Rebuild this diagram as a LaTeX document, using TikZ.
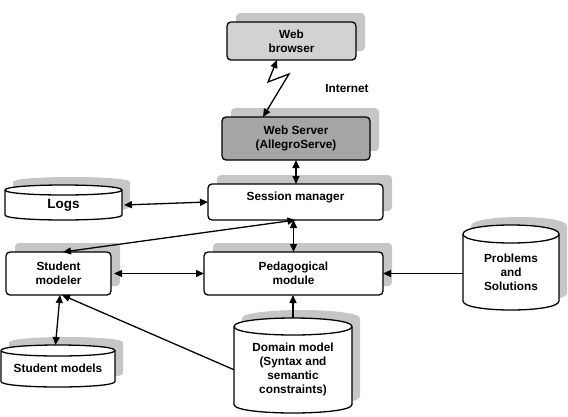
\documentclass[tikz,border=0pt]{standalone}
\usepackage{fontspec}
\setmainfont{Liberation Sans}
\usetikzlibrary{arrows.meta,shadows,calc}
\definecolor{shadowgray}{HTML}{C6C6C6}
\definecolor{browserfill}{HTML}{D2D2D2}
\definecolor{serverfill}{HTML}{A6A6A6}
\newcommand\lbl{\fontsize{11.8}{14}\selectfont\bfseries}
\newcommand\biglbl{\fontsize{13.5}{16}\selectfont\bfseries}
% x1, x2, y of top ellipse centre, y bottom, ry
\newcommand\cylshape[5]{%
  \begin{scope}[xshift=8pt,yshift=8pt]
    \fill[shadowgray] (#1,#3) -- (#1,{#4-#5}) .. controls (#1,{#4+#5/3}) and (#2,{#4+#5/3}) .. (#2,{#4-#5}) -- (#2,#3) .. controls (#2,{#3-4*#5/3}) and (#1,{#3-4*#5/3}) .. cycle;
  \end{scope}
  \draw[cylline,fill=white] (#1,#3) -- (#1,{#4-#5}) .. controls (#1,{#4+#5/3}) and (#2,{#4+#5/3}) .. (#2,{#4-#5}) -- (#2,#3) .. controls (#2,{#3-4*#5/3}) and (#1,{#3-4*#5/3}) .. cycle;
  \draw[cylline] (#1,#3) .. controls (#1,{#3+4*#5/3}) and (#2,{#3+4*#5/3}) .. (#2,#3);
}
\tikzset{
  box/.style={draw, line width=1.3pt, rounded corners=4pt, fill=white, inner sep=0pt, outer sep=0pt,
    align=center, font=\lbl, copy shadow={shadow xshift=9pt, shadow yshift=9pt, fill=shadowgray, draw=none}},
  cylline/.style={line width=1.3pt},
  cyltext/.style={inner sep=0pt, outer sep=0pt, align=center, font=\lbl},
  tip/.tip={Triangle[length=8pt,width=7pt]},
  link/.style={line width=1.3pt, tip-tip},
  onelink/.style={line width=1.3pt, -tip}
}
\begin{document}
\begin{tikzpicture}[x=1pt,y=-1pt]
\useasboundingbox (0,0) rectangle (568,416);

% boxes
\node[box, fill=browserfill, minimum width=129pt, minimum height=38pt] (browser) at (291.5,41) {Web\\browser};
\node[box, fill=serverfill, minimum width=148pt, minimum height=43pt] (server) at (296,138.5) {Web Server\\(AllegroServe)};
\node[box, minimum width=175pt, minimum height=36pt, text depth=11pt] (session) at (295.5,202) {Session manager};
\node[box, minimum width=105pt, minimum height=43pt] (modeler) at (58.5,273.5) {Student\\modeler};
\node[box, minimum width=179pt, minimum height=43pt] (pedagogical) at (293.5,273.5) {Pedagogical\\module};

% cylinders
\cylshape{5}{122}{190}{220}{5}
\node[cyltext, font=\biglbl, minimum width=117pt, minimum height=30pt] (logs) at (63.5,205) {Logs};
\cylshape{1}{115}{350.5}{387}{5.5}
\node[cyltext, minimum width=114pt, minimum height=36.5pt] (smodels) at (58,368.75) {Student models};
\cylshape{463}{559}{234}{310}{9}
\node[cyltext, minimum width=96pt, minimum height=76pt] (problems) at (511,272) {Problems\\and\\Solutions};
\cylshape{234}{352}{326.5}{413}{8.5}
\node[cyltext, minimum width=118pt, minimum height=86.5pt] (domain) at (293,369.75) {Domain model\\(Syntax and\\semantic\\constraints)};

% label
\node[font=\lbl] (internet) at (347,88) {Internet};

% connectors
\coordinate (zA) at (268,82);
\coordinate (zB) at (289,74);
\draw[link, line join=miter] ([xshift=-14.5pt]browser.south) -- (zA) -- (zB) -- ([xshift=-33pt]server.north);
\draw[link] (server.south) -- (server.south |- session.north);
\draw[link] ([xshift=2pt]logs.east) -- (session.west);
\draw[link] (session.south) -- ([xshift=4.5pt]modeler.north);
\draw[link] (pedagogical.north |- session.south) -- (pedagogical.north);
\draw[link] ([xshift=3pt]modeler.east) -- (pedagogical.west);
\draw[onelink] (pedagogical.east -| problems.west) -- (pedagogical.east);
\draw[onelink] ([yshift=8.5pt]domain.north) -- (domain.north |- pedagogical.south);
\draw[onelink] (domain.west) -- ([xshift=3.5pt]modeler.south);
\draw[link] ([xshift=1.5pt]modeler.south) -- ([xshift=-2.5pt,yshift=5.5pt]smodels.north);
\end{tikzpicture}
\end{document}
